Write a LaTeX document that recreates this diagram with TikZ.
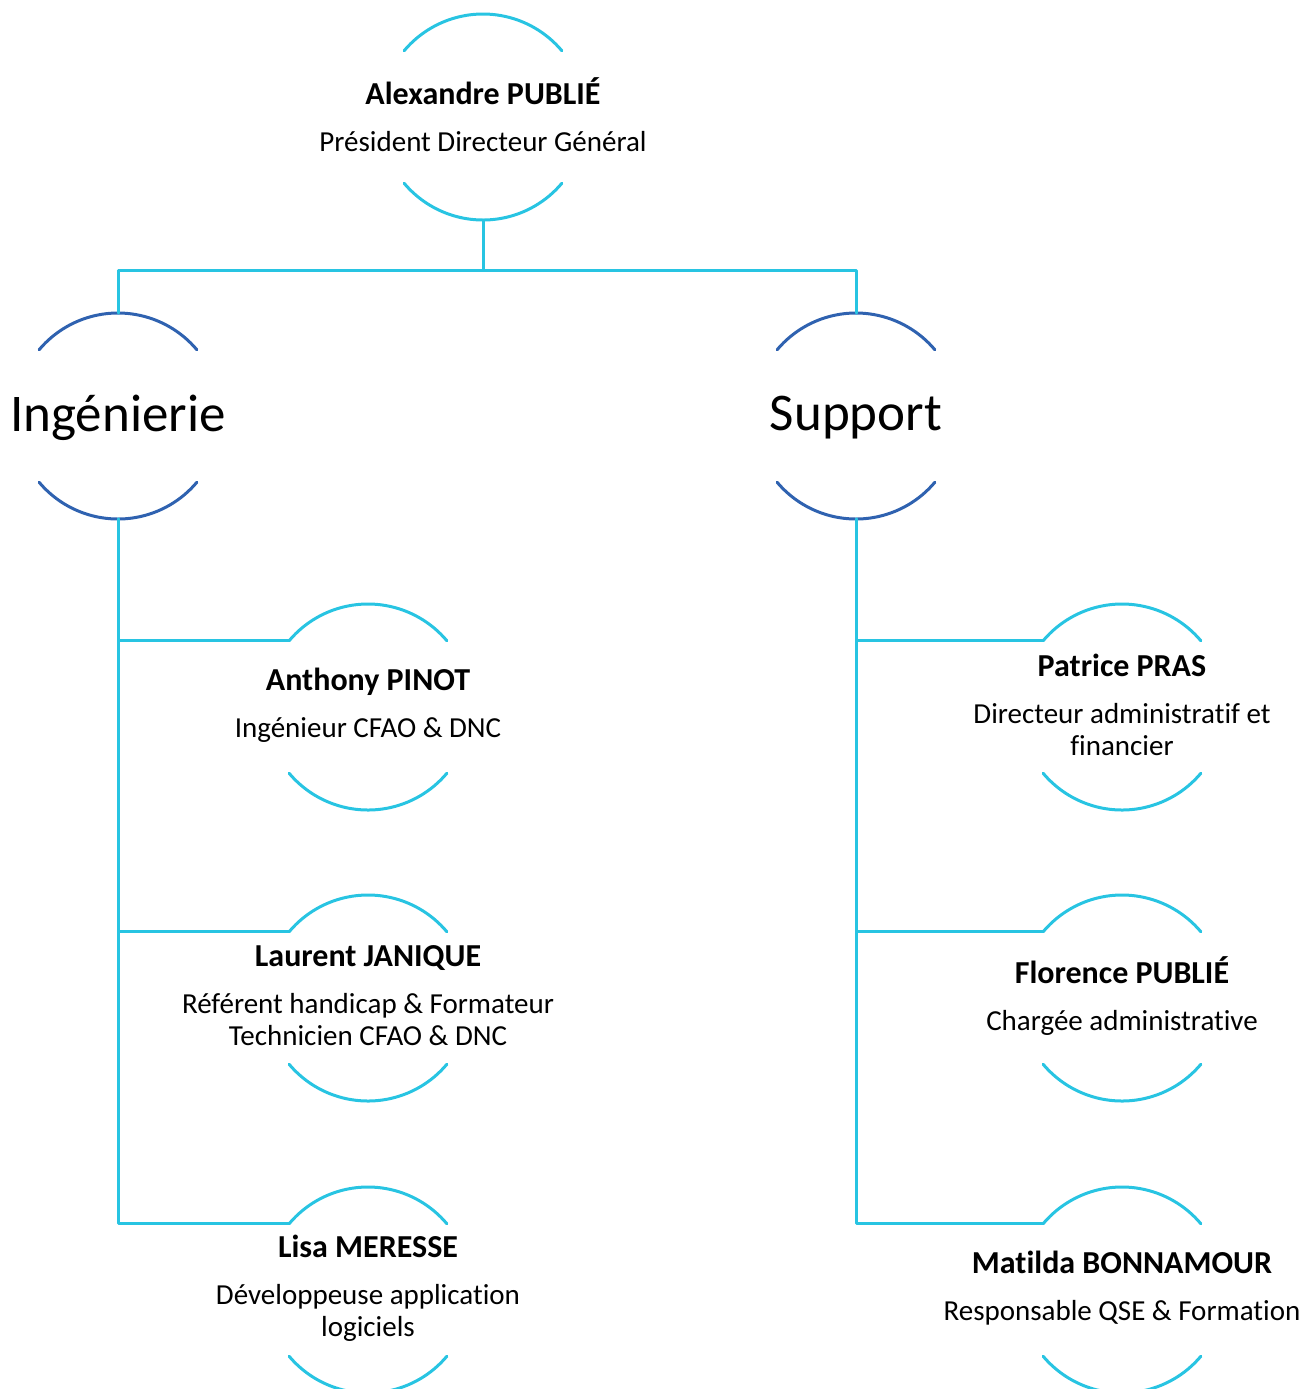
\documentclass[tikz,border=0pt]{standalone}
\usepackage{fontspec}
\setmainfont{Carlito}[Ligatures=NoCommon]
\definecolor{lienbleu}{RGB}{40,196,226}
\definecolor{polebleu}{RGB}{47,98,176}
\newcommand{\nom}[1]{{\fontsize{16}{16}\selectfont\bfseries #1}}
\begin{document}
\begin{tikzpicture}[x=0.5pt, y=0.5pt, line cap=round, line join=round,
  ring/.style={circle, minimum size=103pt, inner sep=0pt, outer sep=0pt},
  who/.style={align=center, font=\fontsize{14.5}{16}\selectfont, yshift=1pt},
  pole/.style={font=\fontsize{26.5}{30}\selectfont, yshift=-0.8pt},
  link/.style={draw=lienbleu, line width=1.5pt}]
\useasboundingbox (0,0) rectangle (1307,-1389);
% cercles
\node[ring] (pdg) at (483,-117) {};
\node[ring] (inge) at (118,-416) {};
\node[ring] (supp) at (856,-416) {};
\node[ring] (pinot) at (368,-707) {};
\node[ring] (janique) at (368,-998) {};
\node[ring] (meresse) at (368,-1290) {};
\node[ring] (pras) at (1122,-707) {};
\node[ring] (fpublie) at (1122,-998) {};
\node[ring] (bonnamour) at (1122,-1290) {};
% textes
\node[who] (pdgtxt) at (pdg) {\nom{Alexandre PUBLIÉ}\\[7.5pt]Président Directeur Général};
\node[pole] (ingetxt) at (inge) {Ingénierie};
\node[pole] (supptxt) at (supp) {Support};
\node[who] (pinottxt) at (pinot) {\nom{Anthony PINOT}\\[7.5pt]Ingénieur CFAO \& DNC};
\node[who] (janiquetxt) at (janique) {\nom{Laurent JANIQUE}\\[7.5pt]Référent handicap \& Formateur\\Technicien CFAO \& DNC};
\node[who] (meressetxt) at (meresse) {\nom{Lisa MERESSE}\\[7.5pt]Développeuse application\\logiciels};
\node[who] (prastxt) at (pras) {\nom{Patrice PRAS}\\[7.5pt]Directeur administratif et\\financier};
\node[who] (fpublietxt) at (fpublie) {\nom{Florence PUBLIÉ}\\[7.5pt]Chargée administrative};
\node[who] (bonnamourtxt) at (bonnamour) {\nom{Matilda BONNAMOUR}\\[7.5pt]Responsable QSE \& Formation};
% arcs
\foreach \n in {pdg,pinot,janique,meresse,pras,fpublie,bonnamour}
  \draw[link] (\n.140) arc[start angle=140, end angle=40, radius=103]
              (\n.220) arc[start angle=220, end angle=320, radius=103];
\foreach \n in {inge,supp}
  \draw[link, draw=polebleu] (\n.140) arc[start angle=140, end angle=40, radius=103]
              (\n.220) arc[start angle=220, end angle=320, radius=103];
% liens
\draw[link] (pdg.south) -- ++(0,-50) -| (inge.north);
\draw[link] (pdg.south) ++(0,-50) -| (supp.north);
\foreach \n in {pinot,janique,meresse}
  \draw[link] (inge.south) |- (\n.140);
\foreach \n in {pras,fpublie,bonnamour}
  \draw[link] (supp.south) |- (\n.140);
\end{tikzpicture}
\end{document}
